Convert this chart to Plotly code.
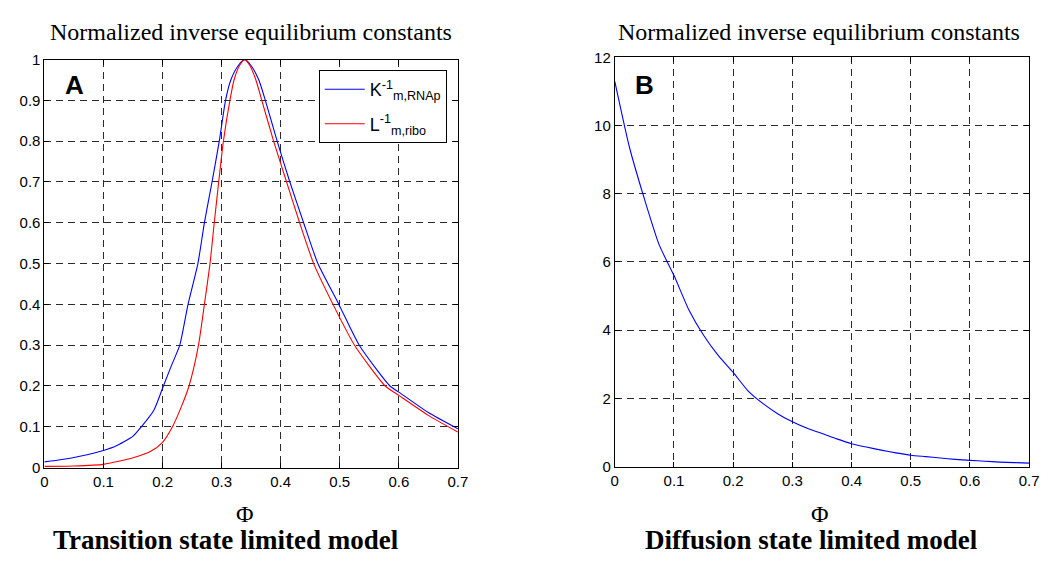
import plotly.graph_objects as go
from plotly.subplots import make_subplots

# Panel A: transition-state limited model (normalized inverse constants)
phi_k = [0.00, 0.03, 0.06, 0.10, 0.12, 0.15, 0.164, 0.185, 0.2014, 0.215, 0.2291,
         0.2431, 0.2598, 0.2708, 0.2837, 0.296, 0.3066, 0.3155, 0.328, 0.3389,
         0.350, 0.363, 0.374, 0.394, 0.4155, 0.4388, 0.463, 0.4985, 0.533,
         0.585, 0.60, 0.65, 0.70]
k_rnap = [0.014, 0.020, 0.028, 0.042, 0.052, 0.077, 0.100, 0.140, 0.200, 0.250, 0.300,
          0.400, 0.500, 0.600, 0.700, 0.800, 0.900, 0.950, 0.985, 1.000,
          0.985, 0.950, 0.900, 0.800, 0.700, 0.600, 0.500, 0.400, 0.300,
          0.200, 0.185, 0.135, 0.095]

phi_l = [0.00, 0.05, 0.10, 0.15, 0.18, 0.20, 0.2167, 0.232, 0.2448, 0.2608, 0.2708,
         0.2803, 0.2875, 0.295, 0.303, 0.314, 0.321, 0.330, 0.3389, 0.348,
         0.358, 0.368, 0.388, 0.41, 0.432, 0.4558, 0.4886, 0.525, 0.577,
         0.60, 0.65, 0.70]
l_ribo = [0.003, 0.004, 0.008, 0.024, 0.040, 0.062, 0.100, 0.150, 0.200, 0.300, 0.400,
          0.500, 0.600, 0.700, 0.800, 0.900, 0.950, 0.985, 1.000, 0.985,
          0.950, 0.900, 0.800, 0.700, 0.600, 0.500, 0.400, 0.300, 0.200,
          0.177, 0.128, 0.087]

# Panel B: diffusion-state limited model
phi_b = [0.000, 0.025, 0.050, 0.075, 0.100, 0.125, 0.150, 0.175, 0.200, 0.225,
         0.250, 0.275, 0.300, 0.325, 0.350, 0.375, 0.400, 0.425, 0.450, 0.475,
         0.500, 0.525, 0.550, 0.575, 0.600, 0.625, 0.650, 0.675, 0.700]
k_diff = [11.3, 9.35, 7.85, 6.5, 5.6, 4.6, 3.85, 3.25, 2.76, 2.22,
          1.85, 1.55, 1.31, 1.12, 0.97, 0.81, 0.67, 0.57, 0.48, 0.40,
          0.33, 0.29, 0.25, 0.21, 0.18, 0.155, 0.13, 0.115, 0.10]

x_ticks = [0, 0.1, 0.2, 0.3, 0.4, 0.5, 0.6, 0.7]
x_labels = ["0", "0.1", "0.2", "0.3", "0.4", "0.5", "0.6", "0.7"]
ya_ticks = [0, 0.1, 0.2, 0.3, 0.4, 0.5, 0.6, 0.7, 0.8, 0.9, 1]
ya_labels = ["0", "0.1", "0.2", "0.3", "0.4", "0.5", "0.6", "0.7", "0.8", "0.9", "1"]
yb_ticks = [0, 2, 4, 6, 8, 10, 12]
yb_labels = ["0", "2", "4", "6", "8", "10", "12"]

title_text = "Normalized inverse equilibrium constants"
name_k = "K<sup>-1</sup><sub>m,RNAp</sub>"
name_l = "L<sup>-1</sup><sub>m,ribo</sub>"

SERIF = "Liberation Serif, Times New Roman, serif"
SANS = "Liberation Sans, Arial, sans-serif"

fig = make_subplots(rows=1, cols=2)

curve = dict(width=1.1, shape="spline", smoothing=0.6)
fig.add_trace(go.Scatter(x=phi_k, y=k_rnap, mode="lines", name=name_k, legendgroup="k",
                         line=dict(color="#0000ff", **curve)), row=1, col=1)
fig.add_trace(go.Scatter(x=phi_l, y=l_ribo, mode="lines", name=name_l, legendgroup="l",
                         line=dict(color="#ff0000", **curve)), row=1, col=1)
fig.add_trace(go.Scatter(x=phi_b, y=k_diff, mode="lines", showlegend=False,
                         line=dict(color="#0000ff", **curve)), row=1, col=2)

axis_common = dict(
    showline=True, linecolor="black", linewidth=1, mirror="ticks",
    ticks="inside", ticklen=5, tickcolor="black",
    showgrid=True, gridcolor="#2a2a2a", gridwidth=1, griddash="7px,5px",
    zeroline=False, tickfont=dict(family=SANS, size=15, color="black"),
)

fig.update_xaxes(**axis_common, range=[0, 0.7], tickvals=x_ticks, ticktext=x_labels)
fig.update_yaxes(**axis_common)
fig.update_xaxes(domain=[0.039, 0.4377], row=1, col=1)
fig.update_xaxes(domain=[0.589, 0.9886], row=1, col=2)
fig.update_yaxes(domain=[0.157, 0.907], range=[0, 1], tickvals=ya_ticks,
                 ticktext=ya_labels, row=1, col=1)
fig.update_yaxes(domain=[0.159, 0.911], range=[0, 12], tickvals=yb_ticks,
                 ticktext=yb_labels, row=1, col=2)

W, H = 1051, 561


def px(x, y):
    return dict(x=x / W, y=1 - y / H, xref="paper", yref="paper")


annotations = [
    dict(**px(250, 24), text=title_text, font=dict(family=SERIF, size=24, color="black")),
    dict(**px(826, 24), text=title_text, font=dict(family=SERIF, size=24, color="black")),
    dict(**px(244, 521), text="Φ", font=dict(family=SERIF, size=24, color="black")),
    dict(**px(827, 521), text="Φ", font=dict(family=SERIF, size=24, color="black")),
    dict(**px(225, 548), text="<b>Transition state limited model</b>",
         font=dict(family=SERIF, size=27, color="black")),
    dict(**px(818, 548), text="<b>Diffusion state limited model</b>",
         font=dict(family=SERIF, size=27, color="black")),
    dict(**px(71, 78), text="<b>A</b>", font=dict(family=SANS, size=26, color="black")),
    dict(**px(649, 78), text="<b>B</b>", font=dict(family=SANS, size=26, color="black")),
]
for a in annotations:
    a.update(showarrow=False, xanchor="center", yanchor="middle")

fig.update_layout(
    width=W, height=H,
    margin=dict(l=0, r=0, t=0, b=0),
    paper_bgcolor="white", plot_bgcolor="white",
    annotations=annotations,
    showlegend=True,
    legend=dict(x=319 / W, y=1 - 63 / H, xanchor="left", yanchor="top",
                bgcolor="white", bordercolor="black", borderwidth=1,
                font=dict(family=SANS, size=18, color="black"),
                itemwidth=40, tracegroupgap=8),
)

fig.write_html("out.html")
